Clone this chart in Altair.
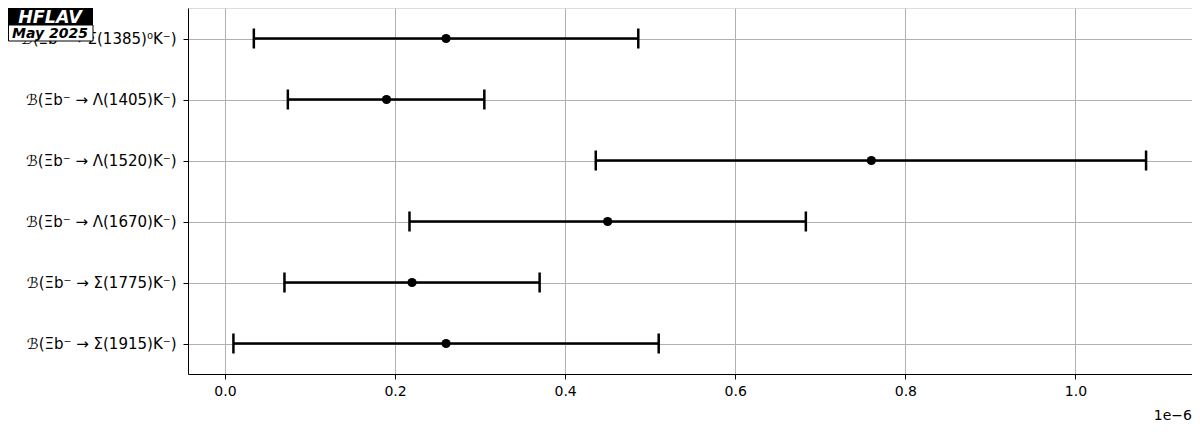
import altair as alt
import pandas as pd

# ---- data (branching fractions in units of 1e-6) ----
labels = [
    "ℬ(Ξb⁻ → Σ(1385)⁰K⁻)",
    "ℬ(Ξb⁻ → Λ(1405)K⁻)",
    "ℬ(Ξb⁻ → Λ(1520)K⁻)",
    "ℬ(Ξb⁻ → Λ(1670)K⁻)",
    "ℬ(Ξb⁻ → Σ(1775)K⁻)",
    "ℬ(Ξb⁻ → Σ(1915)K⁻)",
]
values = [0.26, 0.19, 0.76, 0.45, 0.22, 0.26]
err_lo = [0.226, 0.116, 0.324, 0.233, 0.150, 0.250]
err_hi = [0.226, 0.115, 0.323, 0.233, 0.150, 0.250]
x_ticks = [0.0, 0.2, 0.4, 0.6, 0.8, 1.0]
offset_text = "1e−6"
logo_top = "HFLAV"
logo_bottom = "May 2025"

df = pd.DataFrame({
    "label": labels,
    "value": values,
    "lo": [v - e for v, e in zip(values, err_lo)],
    "hi": [v + e for v, e in zip(values, err_hi)],
})

W, H = 1004, 366
PADL = 180
FONT = "DejaVu Sans"

xscale = alt.Scale(domain=[-0.0434, 1.137], nice=False, zero=False)
yscale = alt.Scale(type="point", padding=0.5)
xaxis = alt.Axis(values=x_ticks, format=".1f", title=None, grid=True,
                 gridColor="#b0b0b0", gridWidth=1, tickColor="black",
                 tickSize=5, tickWidth=1, labelPadding=5, domainColor="black",
                 labelColor="black", labelFont=FONT, labelFontSize=14)
yaxis = alt.Axis(title=None, grid=True, gridColor="#b0b0b0", gridWidth=1,
                 tickColor="black", tickSize=5, tickWidth=1, labelPadding=7,
                 domainColor="black", labelColor="black", labelFont=FONT,
                 labelFontSize=15, labelLimit=300)

base = alt.Chart(df)
Y = alt.Y("label:N", sort=labels, scale=yscale, axis=yaxis)

rule = base.mark_rule(color="black", strokeWidth=2.5).encode(
    x=alt.X("lo:Q", scale=xscale, axis=xaxis), x2="hi:Q", y=Y)
cap_lo = base.mark_tick(color="black", thickness=2.5, size=20, opacity=1).encode(
    x=alt.X("lo:Q", scale=xscale), y=Y)
cap_hi = base.mark_tick(color="black", thickness=2.5, size=20, opacity=1).encode(
    x=alt.X("hi:Q", scale=xscale), y=Y)
pts = base.mark_point(filled=True, color="black", size=85, opacity=1).encode(
    x=alt.X("value:Q", scale=xscale), y=Y)

one = alt.Chart(pd.DataFrame({"a": [logo_top], "b": [logo_bottom], "c": [offset_text]}))
off = one.mark_text(align="right", baseline="middle", font=FONT, fontSize=14,
                    color="black").encode(text="c:N", x=alt.value(W), y=alt.value(H + 42))
box1 = one.mark_rect(color="black").encode(
    x=alt.value(-PADL), x2=alt.value(-95), y=alt.value(0), y2=alt.value(17))
box2 = one.mark_rect(fill="white", stroke="black", strokeWidth=1).encode(
    x=alt.value(-PADL + 0.5), x2=alt.value(-95), y=alt.value(17), y2=alt.value(33))
t1 = one.mark_text(font=FONT, fontSize=17.5, fontWeight="bold", fontStyle="italic",
                   color="white", align="center", baseline="middle").encode(
    text="a:N", x=alt.value(-138), y=alt.value(9.5))
t2 = one.mark_text(font=FONT, fontSize=14, fontWeight="bold", fontStyle="italic",
                   color="black", align="center", baseline="middle").encode(
    text="b:N", x=alt.value(-138), y=alt.value(25.5))

chart = alt.layer(rule, cap_lo, cap_hi, pts, off, box1, box2, t1, t2).properties(
    width=W, height=H,
    autosize=alt.AutoSizeParams(type="none"),
    padding={"left": PADL, "top": 0, "right": 0, "bottom": 50},
).configure_view(stroke="black", strokeWidth=1).configure(background="white")

chart.save("out.html", embed_options={"renderer": "svg", "actions": False})
